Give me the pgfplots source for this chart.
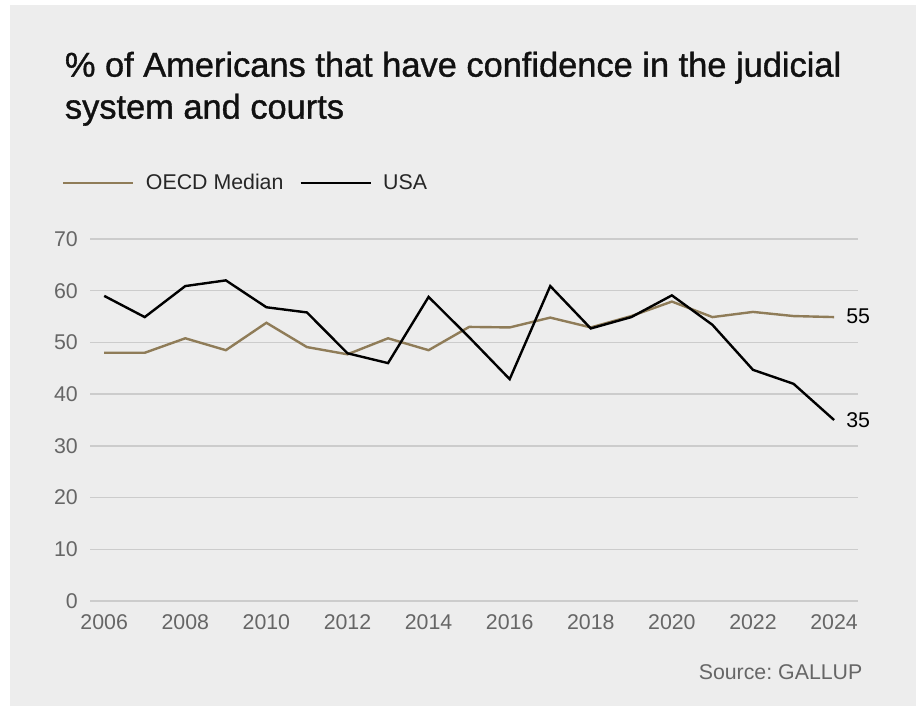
\documentclass[border=0pt]{standalone}
\usepackage{fontspec}
\setmainfont{Liberation Sans}
\newfontfamily\titlefont[FakeBold=1]{Liberation Sans}
\usepackage{pgfplots}
\pgfplotsset{compat=1.18}
\frenchspacing

\definecolor{panel}{HTML}{EDEDED}
\definecolor{oecd}{RGB}{143,124,88}
\definecolor{gridc}{HTML}{CCCCCC}
\definecolor{ticktxt}{HTML}{666666}
\definecolor{titletxt}{HTML}{111111}

\begin{document}
\begin{tikzpicture}
  % page and panel (920 x 706 px, 1px = 0.75pt)
  \fill[white] (0,0) rectangle (690pt,529.5pt);
  \fill[panel] (7.5pt,0) rectangle (687pt,525.75pt);

  \node[anchor=base west, inner sep=0pt, text=titletxt, font=\titlefont\fontsize{25.8}{30}\selectfont]
    at (48.5pt,472pt) {\% of Americans that have confidence in the judicial};
  \node[anchor=base west, inner sep=0pt, text=titletxt, font=\titlefont\fontsize{25.8}{30}\selectfont]
    at (48.5pt,440.5pt) {system and courts};

  \begin{axis}[
      at={(67.5pt,78.75pt)}, anchor=south west,
      scale only axis,
      width=576pt, height=271.5pt,
      xmin=2005.65, xmax=2024.59,
      ymin=0, ymax=70,
      clip=false,
      xtick={2006,2008,...,2024},
      ytick={0,10,...,70},
      axis line style={draw=none},
      major tick length=0pt,
      ymajorgrids,
      grid style={gridc, line width=1pt},
      /pgf/number format/1000 sep={},
      /pgf/number format/assume math mode=true,
      ticklabel style={font=\fontsize{16}{19}\selectfont, text=ticktxt, inner sep=0pt},
      yticklabel style={anchor=east, xshift=-9pt},
      xticklabel style={anchor=north, yshift=-10pt},
      legend style={at={(-0.0417,1.1547)}, anchor=west, draw=none, fill=none,
        font=\fontsize{16}{19}\selectfont, text=black!85,
        nodes={inner sep=0pt},
        /tikz/every odd column/.append style={column sep=8.5pt},
        /tikz/every even column/.append style={column sep=12pt}},
      legend columns=2,
      legend image code/.code={\draw[#1] (0pt,0pt) -- (52.5pt,0pt);},
    ]
    \addplot[oecd, line width=1.8pt] coordinates {
      (2006,48) (2007,48) (2008,50.8) (2009,48.5) (2010,53.8) (2011,49.1)
      (2012,47.7) (2013,50.8) (2014,48.5) (2015,53) (2016,52.9) (2017,54.8)
      (2018,52.9) (2019,55.1) (2020,57.9) (2021,54.9) (2022,55.9) (2023,55.1)
      (2024,54.9)
    };
    \addlegendentry{OECD Median}
    \addplot[black, line width=1.8pt] coordinates {
      (2006,59) (2007,54.9) (2008,60.9) (2009,62) (2010,56.8) (2011,55.8)
      (2012,47.9) (2013,46) (2014,58.8) (2015,51) (2016,42.9) (2017,60.9)
      (2018,52.7) (2019,54.9) (2020,59.1) (2021,53.4) (2022,44.7) (2023,42)
      (2024,35)
    };
    \addlegendentry{USA}
    \node[anchor=west, inner sep=0pt, font=\fontsize{16}{19}\selectfont] at (axis cs:2024,55) [xshift=9pt] {55};
    \node[anchor=west, inner sep=0pt, font=\fontsize{16}{19}\selectfont] at (axis cs:2024,35) [xshift=9pt] {35};
  \end{axis}

  \node[anchor=base east, inner sep=0pt, text=ticktxt, font=\fontsize{16}{19}\selectfont]
    at (647pt,19.5pt) {Source: GALLUP};
\end{tikzpicture}
\end{document}
